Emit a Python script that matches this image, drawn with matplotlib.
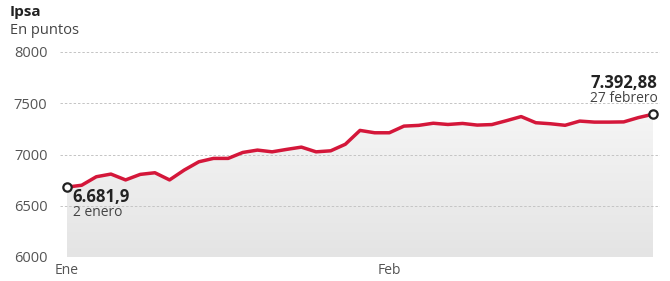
import matplotlib
matplotlib.use("Agg")
import matplotlib.pyplot as plt
import numpy as np
from matplotlib.patches import Polygon

plt.rcParams['font.family'] = ['Open Sans', 'DejaVu Sans']

# Ipsa daily close, 2 Jan - 27 Feb (trading days)
values = [6681.9, 6700, 6783, 6809, 6752, 6806, 6822, 6752, 6848, 6929,
          6962, 6962, 7020, 7043, 7026, 7050, 7072, 7026, 7036, 7100,
          7235, 7212, 7212, 7277, 7284, 7305, 7293, 7303, 7287, 7292,
          7330, 7370, 7310, 7300, 7285, 7326, 7316, 7316, 7318, 7360,
          7392.88]
month_labels = ["Ene", "Feb"]
month_idx = [0, 22]
y_ticks = [6000, 6500, 7000, 7500, 8000]

W, H = 670, 281
fig = plt.figure(figsize=(W / 100, H / 100), dpi=100)
ax = fig.add_axes([60 / W, 1 - 257 / H, 600 / W, 205 / H])

x = np.arange(len(values))
ax.set_xlim(-7 / 14.65, len(values) - 1 + 7 / 14.65)
ax.set_ylim(6000, 8000)

# gradient fill under the line
grad = np.linspace(0, 1, 256).reshape(-1, 1)
img = ax.imshow(grad, extent=[x[0], x[-1], 6000, max(values)], origin='upper',
                cmap=matplotlib.colors.LinearSegmentedColormap.from_list(
                    'g', ['#f5f5f5', '#e4e4e4']),
                aspect='auto', zorder=1)
poly = Polygon(np.column_stack([np.r_[x[0], x, x[-1]],
                                np.r_[6000, values, 6000]]),
               closed=True, facecolor='none', edgecolor='none')
ax.add_patch(poly)
img.set_clip_path(poly)

for yt in y_ticks:
    ax.axhline(yt, color='#c4c4c4', lw=0.7, ls=(0, (2.5, 2)), zorder=2)

ax.plot(x, values, color='#d4173a', lw=2.5, zorder=3, solid_joinstyle='round')
ax.plot([x[0], x[-1]], [values[0], values[-1]], 'o', ms=6, mfc='white',
        mec='#222222', mew=1.6, zorder=4)

ax.set_yticks(y_ticks)
ax.set_yticklabels([str(v) for v in y_ticks], color='#555555', fontsize=10.5)
ax.set_xticks(month_idx)
ax.set_xticklabels(month_labels, color='#555555', fontsize=10)
ax.tick_params(length=0, pad=9)
ax.tick_params(axis='x', pad=4)
for s in ax.spines.values():
    s.set_visible(False)

ax.text(0.4, 6588, "6.681,9", fontsize=12, fontweight='bold', color='#222222',
        ha='left', va='center', zorder=5)
ax.text(0.4, 6430, "2 enero", fontsize=10, color='#444444', ha='left',
        va='center', zorder=5)
ax.text(40.3, 7700, "7.392,88", fontsize=12, fontweight='bold', color='#222222',
        ha='right', va='center', zorder=5)
ax.text(40.3, 7545, "27 febrero", fontsize=10, color='#444444', ha='right',
        va='center', zorder=5)

fig.text(10 / W, 1 - 12 / H, "Ipsa", fontsize=11, fontweight='bold',
         color='#222222', ha='left', va='center')
fig.text(10 / W, 1 - 30 / H, "En puntos", fontsize=10.5, color='#444444',
         ha='left', va='center')

fig.savefig("out.png", dpi=100, facecolor='white')
